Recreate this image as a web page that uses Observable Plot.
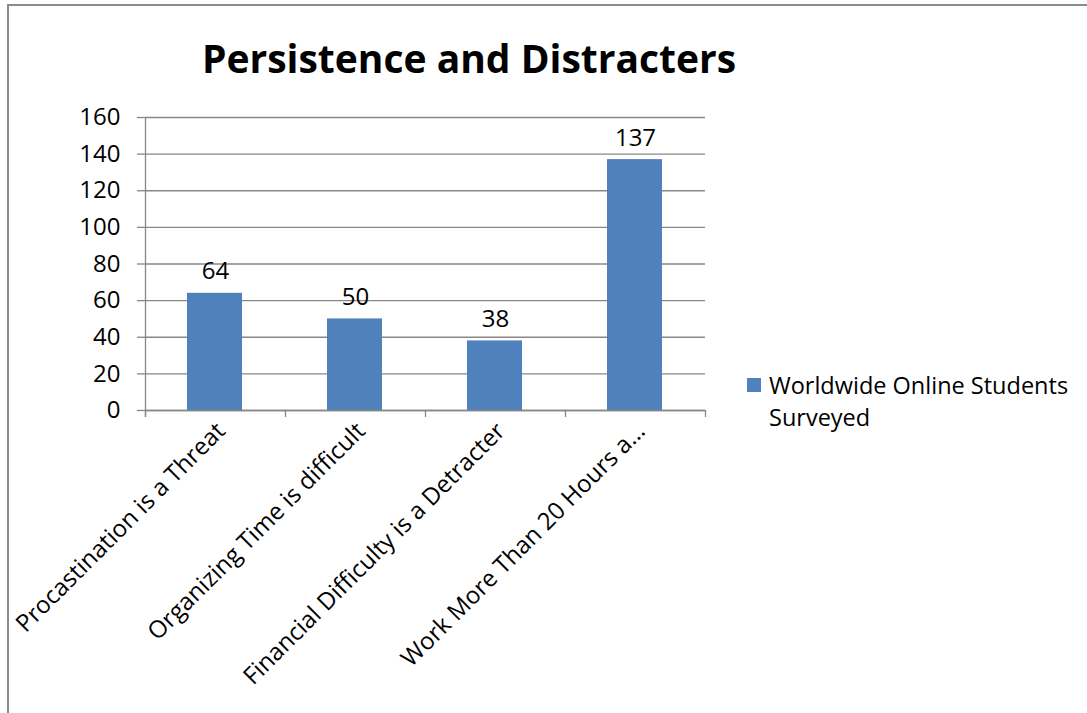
<!DOCTYPE html>
<html>
<head>
<meta charset="utf-8">
<script src="https://cdn.jsdelivr.net/npm/d3@7"></script>
<script src="https://cdn.jsdelivr.net/npm/@observablehq/plot@0.6"></script>
<style>
  html, body { margin: 0; padding: 0; background: #fff; }
  #wrap { position: relative; width: 1087px; height: 713px; overflow: hidden; font-family: "Open Sans", sans-serif; }
  #border { position: absolute; left: 7px; top: 4px; width: 1200px; height: 800px; border: 2px solid #8c8c8c; box-sizing: border-box; }
  #title { position: absolute; left: 0; width: 938px; top: 35px; text-align: center; font-weight: bold; font-size: 39px; color: #000; line-height: 1.2; }
  #legend { position: absolute; left: 747px; top: 369px; font-size: 23.5px; line-height: 32px; color: #000; }
  #legend .sw { position: absolute; left: 0; top: 9px; width: 14px; height: 14px; background: #4F81BD; }
  #legend .tx { margin-left: 22px; }
  svg { position: absolute; left: 0; top: 0; }
</style>
</head>
<body>
<div id="wrap">
  <div id="border"></div>
  <div id="chart"></div>
  <div id="title"></div>
  <div id="legend"><div class="sw"></div><div class="tx"></div></div>
</div>
<script>
const title = "Persistence and Distracters";
const seriesLines = ["Worldwide Online Students", "Surveyed"];
const categories = [
  "Procastination is a Threat",
  "Organizing Time is difficult",
  "Financial Difficulty is a Detracter",
  "Work More Than 20 Hours a…"
];
const values = [64, 50, 38, 137];
const yTicks = [0, 20, 40, 60, 80, 100, 120, 140, 160];

const data = categories.map((c, i) => ({category: c, value: values[i]}));

const W = 1087, H = 713;
const ML = 145, MR = 382, MT = 117, MB = 303;
const half = (W - ML - MR) / categories.length / 2;
const gray = "#878787";
const barColor = "#4F81BD";

document.getElementById("title").textContent = title;
const tx = document.querySelector("#legend .tx");
seriesLines.forEach((s, i) => {
  if (i) tx.appendChild(document.createElement("br"));
  tx.appendChild(document.createTextNode(s));
});

const chart = Plot.plot({
  width: W,
  height: H,
  marginLeft: ML,
  marginRight: MR,
  marginTop: MT,
  marginBottom: MB,
  style: {fontFamily: "Open Sans, sans-serif", fontSize: "24px", color: "#000", background: "transparent"},
  x: {domain: categories, padding: 0, axis: null},
  y: {domain: [0, 160], axis: null},
  marks: [
    Plot.gridY(yTicks, {stroke: gray, strokeOpacity: 1, strokeWidth: 1.3}),
    Plot.axisY(yTicks, {tickSize: 8, tickPadding: 17, stroke: gray, strokeWidth: 1.3, fontSize: 24, fill: "#000", label: null, tickFormat: d => String(d)}),
    Plot.barY(data, {x: "category", y: "value", fill: barColor, insetLeft: 42, insetRight: 43}),
    Plot.ruleY([0], {stroke: gray, strokeWidth: 1.3}),
    Plot.ruleX([categories[0]], {x: d => d, dx: -half, y1: 160, y2: 0, insetBottom: -7, stroke: gray, strokeWidth: 1.3}),
    Plot.ruleX(categories, {x: d => d, dx: -half, y1: 0, y2: 0, insetBottom: -7, stroke: gray, strokeWidth: 1.3}),
    Plot.ruleX([categories[categories.length - 1]], {x: d => d, dx: half, y1: 0, y2: 0, insetBottom: -7, stroke: gray, strokeWidth: 1.3}),
    Plot.text(data, {x: "category", y: "value", text: d => String(d.value), dy: -14, lineAnchor: "bottom", fontSize: 24, fill: "#000"}),
    Plot.text(categories, {x: d => d, frameAnchor: "bottom", dy: 10, dx: -1, rotate: -45, textAnchor: "end", lineAnchor: "top", fontSize: 24, fill: "#000"})
  ]
});
document.getElementById("chart").appendChild(chart);
</script>
</body>
</html>
